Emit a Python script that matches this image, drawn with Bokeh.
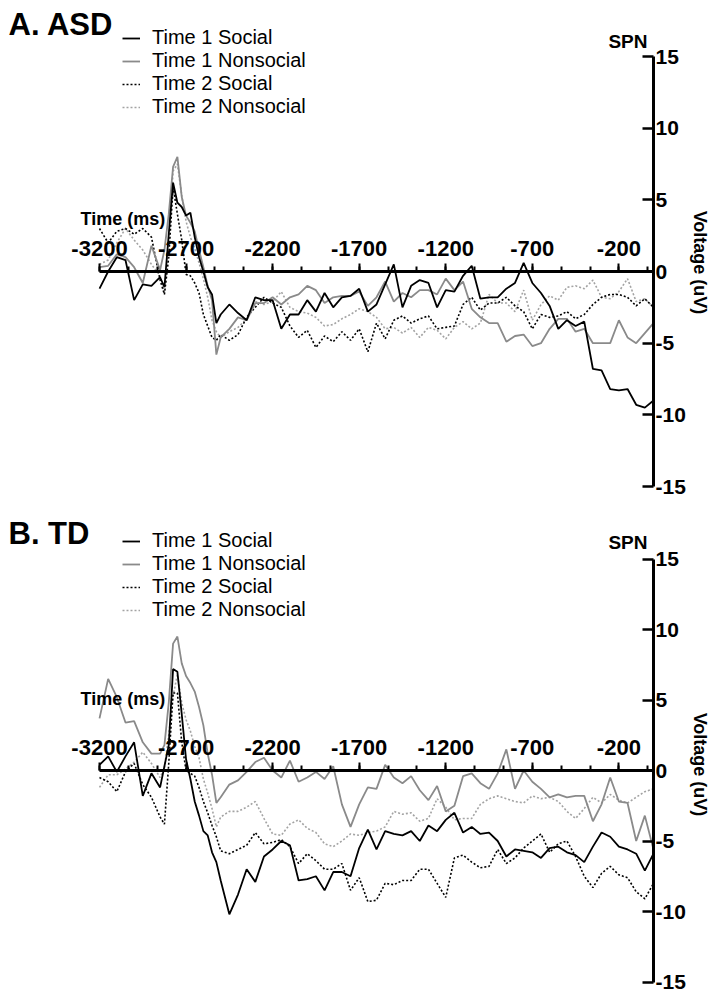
import math
from bokeh.plotting import figure
from bokeh.models import (Range1d, LinearAxis, FixedTicker, Label, Legend, LegendItem,
                          ColumnDataSource, CustomJSTickFormatter)
from bokeh.core.properties import value
from bokeh.layouts import column
from bokeh.embed import file_html
from bokeh.resources import INLINE

# ---------------- data ----------------
time_ms = [-3200, -3150, -3100, -3050, -3000, -2950, -2900,
           -2850, -2825, -2800, -2775, -2750, -2725, -2700, -2675, -2650, -2625, -2600, -2575, -2550, -2525, -2500,
           -2450, -2400, -2350, -2300, -2250, -2200, -2150, -2100, -2050, -2000,
           -1950, -1900, -1850, -1800, -1750, -1700, -1650, -1600, -1550, -1500,
           -1450, -1400, -1350, -1300, -1250, -1200, -1150, -1100, -1050, -1000,
           -950, -900, -850, -800, -750, -700, -650, -600, -550, -500,
           -450, -400, -350, -300, -250, -200, -150, -100, -50, 0]

asd_t1_social = [-1.2, 0.0, 1.0, 0.8, -2.0, -0.9, -1.0,
                 -0.4, -1.1, 2.6, 6.2, 4.8, 4.5, 3.9, 4.1, 2.4, 1.0, 0.0, -1.1, -1.6, -3.6, -3.0,
                 -2.3, -2.9, -3.4, -1.8, -2.0, -2.0, -4.0, -3.0, -3.0, -2.0,
                 -2.8, -1.5, -2.5, -1.8, -1.7, -1.2, -2.8, -2.3, -0.9, 0.5,
                 -2.5, -1.0, -0.6, -0.8, -2.5, -1.3, -1.4, -0.3, 0.4, -1.9,
                 -1.8, -1.8, -1.2, -0.8, 0.6, -0.8, -1.5, -2.4, -4.0, -3.4,
                 -3.8, -3.5, -6.8, -6.9, -8.2, -8.3, -8.2, -9.3, -9.5, -9.0]
asd_t1_nonsocial = [0.3, 0.4, 1.2, 1.0, 0.3, -0.8, 1.8,
                    0.1, 1.5, 4.0, 7.3, 8.0, 5.2, 3.9, 3.4, 2.8, 1.5, 0.3, -1.0, -2.0, -5.8, -4.6,
                    -4.0, -3.2, -3.4, -2.2, -2.2, -1.8, -2.3, -1.8, -1.6, -1.0,
                    -1.3, -2.2, -1.8, -1.7, -1.7, -1.4, -2.4, -1.8, -0.7, -2.1,
                    -1.5, -1.8, -1.3, -1.3, -1.6, -0.5, -1.3, -0.7, -2.6, -3.2,
                    -3.6, -3.6, -4.9, -4.5, -4.4, -5.2, -5.0, -4.0, -3.3, -3.3,
                    -4.2, -4.0, -5.0, -5.0, -5.0, -3.4, -4.6, -5.0, -4.3, -3.6]
asd_t2_social = [3.0, 2.0, 2.8, 3.0, 2.6, 3.0, 2.4,
                 -0.6, -1.6, 1.0, 5.9, 4.0, 2.2, -0.2, -0.3, -0.8, -1.5, -3.0, -3.8, -4.6, -4.8, -4.4,
                 -4.8, -4.4, -3.2, -2.5, -1.8, -2.2, -2.5, -3.8, -4.6, -4.1,
                 -5.3, -4.5, -4.9, -4.2, -4.8, -4.0, -5.6, -3.6, -4.7, -3.4,
                 -3.1, -3.6, -3.3, -3.1, -4.0, -3.9, -3.8, -2.3, -1.8, -2.7,
                 -2.2, -2.2, -1.8, -2.4, -2.8, -4.0, -3.0, -3.2, -3.1, -2.8,
                 -3.3, -3.0, -2.3, -1.8, -1.6, -1.6, -1.8, -2.4, -1.9, -2.5]
asd_t2_nonsocial = [0.5, 0.8, 2.0, 3.0, 2.2, 1.5, 0.5,
                    -0.3, -1.5, 2.0, 7.0, 7.5, 5.3, 3.5, 2.4, 1.6, 0.6, -0.5, -1.8, -3.4, -4.2, -4.6,
                    -4.2, -3.9, -3.3, -2.1, -2.3, -2.1, -1.4, -2.5, -2.8, -2.9,
                    -3.2, -3.8, -3.7, -3.3, -3.0, -2.6, -2.8, -3.2, -4.0, -3.9,
                    -4.3, -3.9, -4.6, -3.9, -4.1, -4.7, -3.9, -3.5, -4.0, -3.6,
                    -1.6, -2.2, -2.2, -2.8, -1.3, -3.4, -2.3, -1.7, -2.0, -1.1,
                    -1.0, -1.2, -0.6, -1.8, -1.9, -1.4, -0.5, -2.1, -1.9, -2.5]

td_t1_social = [0.4, 1.0, -0.1, 1.0, 2.0, -1.8, -0.2,
                -1.2, 0.3, 1.8, 7.2, 7.0, 4.0, 0.8, -0.6, -2.2, -3.2, -4.3, -4.6, -5.8, -6.5, -7.8,
                -10.2, -8.8, -7.0, -7.9, -6.1, -5.6, -5.0, -5.3, -7.8, -7.7,
                -7.5, -8.5, -7.2, -7.2, -7.5, -5.5, -4.2, -5.6, -4.3, -4.5,
                -4.6, -4.3, -5.0, -3.9, -4.3, -3.5, -3.0, -4.4, -4.0, -4.5,
                -4.4, -5.0, -6.1, -5.6, -5.7, -5.8, -6.2, -5.5, -5.4, -5.8,
                -6.0, -6.5, -5.4, -4.4, -4.7, -5.4, -5.6, -5.9, -7.1, -5.9]
td_t1_nonsocial = [3.7, 6.5, 5.2, 3.4, 3.5, 2.0, 1.2,
                   1.2, 1.8, 4.8, 9.0, 9.5, 7.6, 6.7, 6.2, 5.6, 4.5, 3.2, 1.2, -0.3, -2.3, -1.9,
                   -1.0, -0.7, -0.1, 0.6, 0.9, 0.0, -0.5, 0.7, -0.8, -0.5,
                   -0.1, -0.6, 0.3, -2.4, -4.0, -2.4, -1.2, -1.3, 0.4, -0.5,
                   -0.9, -0.4, -1.4, -2.1, -1.1, -2.9, -2.5, -0.4, -0.2, -0.9,
                   -1.3, -0.2, 1.5, -1.3, 0.0, -0.8, -1.3, -1.9, -1.7, -1.9,
                   -1.8, -1.8, -3.6, -2.4, -0.5, -2.2, -2.3, -5.0, -3.2, -5.6]
td_t2_social = [-0.5, -0.8, -1.5, -0.1, 0.5, -1.0, -1.9,
                -3.3, -3.8, 0.5, 5.5, 5.5, 2.0, 0.0, -0.2, -0.4, -1.2, -2.2, -3.0, -3.9, -4.7, -5.7,
                -5.9, -5.6, -5.3, -4.4, -5.2, -5.1, -4.9, -5.4, -6.6, -5.9,
                -6.4, -7.0, -7.0, -6.6, -8.5, -7.6, -9.3, -9.2, -8.0, -8.1,
                -7.8, -7.8, -7.0, -7.0, -8.0, -9.0, -6.2, -6.0, -6.5, -6.9,
                -6.8, -5.6, -6.6, -6.2, -5.5, -5.0, -4.5, -5.8, -5.2, -5.0,
                -6.1, -7.5, -8.3, -7.3, -6.8, -7.4, -7.6, -8.6, -9.1, -8.0]
td_t2_nonsocial = [-1.2, -0.3, -0.3, 0.1, 0.6, 1.3, 0.5,
                   -0.5, 0.2, 2.5, 5.3, 6.8, 4.8, 3.6, 2.8, 1.7, 0.9, -0.6, -1.6, -2.7, -4.0, -3.3,
                   -2.9, -2.9, -2.6, -2.2, -3.4, -4.5, -4.6, -3.8, -3.5, -4.1,
                   -4.4, -5.2, -5.4, -5.0, -4.5, -4.6, -4.4, -4.3, -4.0, -2.9,
                   -3.1, -3.0, -3.6, -3.4, -2.0, -2.6, -3.5, -3.4, -3.4, -2.4,
                   -2.0, -1.8, -2.0, -2.2, -2.3, -1.8, -2.0, -1.9, -2.2, -2.9,
                   -3.4, -2.7, -1.9, -2.3, -1.7, -2.1, -2.3, -1.9, -1.5, -1.3]

series_labels = ["Time 1 Social", "Time 1 Nonsocial", "Time 2 Social", "Time 2 Nonsocial"]
x_major_ticks = [-3200, -2700, -2200, -1700, -1200, -700, -200]
y_ticks = [-15, -10, -5, 0, 5, 10, 15]

# ---------------- layout constants (pixels) ----------------
FONT = "Liberation Sans"
PAGE_W = 709
AX_LEFT_PX = 99      # where -3200 ms sits
AX_RIGHT_PX = 653    # where 0 ms sits (the voltage axis)
T0, T1 = -3200, 0
MS_PER_PX = (T1 - T0) / (AX_RIGHT_PX - AX_LEFT_PX)


def tx(px):
    return T0 + (px - AX_LEFT_PX) * MS_PER_PX


def make_panel(title, data, height, zero_px, ppu, title_py, legend_top_py,
               time_label_py, spn_py, volt_py):
    def vy(py):
        return (zero_px - py) / ppu

    p = figure(width=PAGE_W, height=height,
               x_range=Range1d(tx(0), tx(PAGE_W)),
               y_range=Range1d(vy(height), vy(0)),
               x_axis_location=None, y_axis_location=None, toolbar_location=None,
               output_backend="svg", min_border=0, min_border_left=0, min_border_right=0,
               min_border_top=0, min_border_bottom=0,
               background_fill_color="white", border_fill_color="white")
    p.grid.visible = False
    p.outline_line_color = None

    src = ColumnDataSource(dict(t=time_ms, s1=data[0], s2=data[1], s3=data[2], s4=data[3]))
    r4 = p.line("t", "s4", source=src, line_color="#a3a3a3", line_width=1.6, line_dash="2 2")
    r3 = p.line("t", "s3", source=src, line_color="black", line_width=1.6, line_dash="2 2")
    r2 = p.line("t", "s2", source=src, line_color="#8a8a8a", line_width=1.8)
    r1 = p.line("t", "s1", source=src, line_color="black", line_width=1.8)

    fmt = CustomJSTickFormatter(code="return tick.toFixed(0);")
    xax = LinearAxis(ticker=FixedTicker(ticks=x_major_ticks,
                                        minor_ticks=[T0 + k * 500 / 3 for k in range(20)]),
                     formatter=fmt, fixed_location=0, bounds=(T0, T1),
                     axis_line_width=3, axis_line_color="black",
                     major_tick_in=0, major_tick_out=8, minor_tick_in=0, minor_tick_out=5,
                     major_tick_line_width=2, minor_tick_line_width=2,
                     major_tick_line_color="black", minor_tick_line_color="black",
                     major_label_standoff=8, major_label_text_font=FONT,
                     major_label_text_font_style="bold", major_label_text_font_size="22px",
                     major_label_text_color="black")
    p.add_layout(xax, "above")

    yax = LinearAxis(ticker=FixedTicker(ticks=y_ticks, minor_ticks=[]), formatter=fmt,
                     fixed_location=0, bounds=(-15, 15),
                     axis_line_width=3, axis_line_color="black",
                     major_tick_in=11, major_tick_out=0, minor_tick_in=0, minor_tick_out=0,
                     major_tick_line_width=2.5, major_tick_line_color="black",
                     major_label_standoff=2, major_label_text_font=FONT,
                     major_label_text_font_style="bold", major_label_text_font_size="21px",
                     major_label_text_color="black")
    p.add_layout(yax, "right")

    # texts
    p.add_layout(Label(x=tx(8), y=vy(title_py), text=title,
                       text_font=FONT, text_font_style="bold", text_font_size="31px",
                       text_align="left", text_baseline="middle", text_color="black"))
    p.add_layout(Label(x=tx(80), y=vy(time_label_py), text="Time (ms)",
                       text_font=FONT, text_font_style="bold", text_font_size="18px",
                       text_align="left", text_baseline="middle", text_color="black"))
    p.add_layout(Label(x=tx(647), y=vy(spn_py), text="SPN",
                       text_font=FONT, text_font_style="bold", text_font_size="19px",
                       text_align="right", text_baseline="middle", text_color="black"))
    p.add_layout(Label(x=tx(699), y=vy(volt_py), text="Voltage (uV)", angle=-math.pi / 2,
                       text_font=FONT, text_font_style="bold", text_font_size="18px",
                       text_align="center", text_baseline="middle", text_color="black"))

    row_h = 22
    legend = Legend(items=[LegendItem(label=value(series_labels[0]), renderers=[r1]),
                           LegendItem(label=value(series_labels[1]), renderers=[r2]),
                           LegendItem(label=value(series_labels[2]), renderers=[r3]),
                           LegendItem(label=value(series_labels[3]), renderers=[r4])],
                    location=(122, height - (legend_top_py + 4 * row_h)),
                    orientation="vertical",
                    label_text_font=FONT, label_text_font_size="20px", label_text_color="black",
                    glyph_width=18, glyph_height=row_h, label_height=row_h, label_standoff=12,
                    spacing=0, padding=0, margin=0, border_line_color=None,
                    background_fill_alpha=0)
    p.add_layout(legend)
    return p


pA = make_panel("A. ASD", [asd_t1_social, asd_t1_nonsocial, asd_t2_social, asd_t2_nonsocial],
                height=501, zero_px=271, ppu=430 / 30, title_py=23.5, legend_top_py=30,
                time_label_py=218, spn_py=41, volt_py=262)
pB = make_panel("B. TD", [td_t1_social, td_t1_nonsocial, td_t2_social, td_t2_nonsocial],
                height=492, zero_px=269, ppu=14.1, title_py=31.5, legend_top_py=32,
                time_label_py=197, spn_py=41, volt_py=263)

layout = column(pA, pB, spacing=0)
open("out.html", "w").write(file_html(layout, INLINE))
